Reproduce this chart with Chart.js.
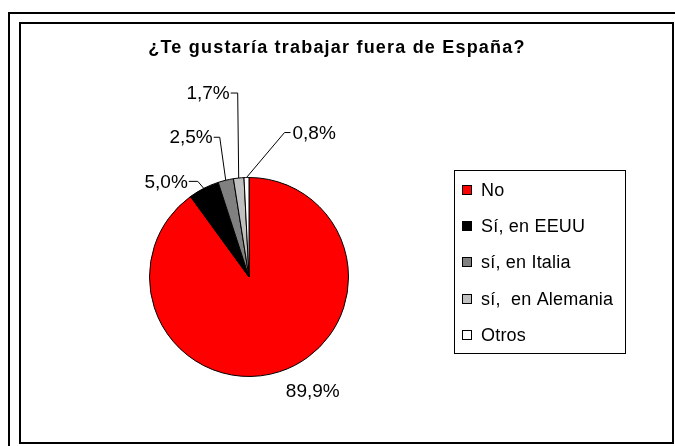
<!DOCTYPE html>
<html>
<head>
<meta charset="utf-8">
<script src="https://cdn.jsdelivr.net/npm/chart.js@4.4.1/dist/chart.umd.min.js"></script>
<style>
	html, body { margin: 0; padding: 0; background: #fff; }
	#pieChart { display: block; }
</style>
</head>
<body>
<canvas id="pieChart" width="675" height="446"></canvas>
<script>
	// data
	var chartTitle = '¿Te gustaría trabajar fuera de España?';
	var categories = ['No', 'Sí, en EEUU', 'sí, en Italia', 'sí,  en Alemania', 'Otros'];
	var percents = [89.9, 5.0, 2.5, 1.7, 0.8];
	var sliceColors = ['#ff0000', '#000000', '#808080', '#c0c0c0', '#ffffff'];

	// label placement, relative to the slice edge point (style only)
	var labelLayout = [
		{ line: false, tx: 33, ty: 20, align: 'center' },
		{ line: true, ex: -6, ey: -7, tail: -15, tx: -16, align: 'right' },
		{ line: true, ex: -6, ey: -43, tail: -12, tx: -13, align: 'right' },
		{ line: true, ex: -1, ey: -85, tail: -8, tx: -9, align: 'right' },
		{ line: true, ex: 38, ey: -45, tail: 44, tx: 46, align: 'left' }
	];

	var FONT = "'Liberation Sans', Arial, sans-serif";

	function fmtPct(v) {
		return v.toFixed(1).replace('.', ',') + '%';
	}

	/*----frame, title, legend, labels----*/
	var excelLook = {
		id: 'excelLook',
		beforeDraw: function(chart) {
			var ctx = chart.ctx;
			ctx.save();
			ctx.fillStyle = '#fff';
			ctx.fillRect(0, 0, chart.width, chart.height);
			ctx.strokeStyle = '#000';
			// outer chart border (runs off the right and bottom edge)
			ctx.lineWidth = 2;
			ctx.beginPath();
			ctx.moveTo(chart.width + 5, 13);
			ctx.lineTo(9, 13);
			ctx.lineTo(9, chart.height + 5);
			ctx.stroke();
			// inner border
			ctx.strokeRect(20, 23, 653, 420);
			ctx.restore();
		},
		afterDraw: function(chart) {
			var ctx = chart.ctx;
			var meta = chart.getDatasetMeta(0);
			var ds = chart.data.datasets[0];
			ctx.save();

			// title
			ctx.fillStyle = '#000';
			ctx.font = 'bold 18px ' + FONT;
			ctx.letterSpacing = '1.2px';
			ctx.textAlign = 'center';
			ctx.textBaseline = 'middle';
			ctx.fillText(chartTitle, 337, 48);
			ctx.letterSpacing = '0px';

			// value labels with leader lines
			ctx.font = '19px ' + FONT;
			ctx.lineWidth = 1;
			ctx.strokeStyle = '#000';
			meta.data.forEach(function(arc, i) {
				var mid = (arc.startAngle + arc.endAngle) / 2;
				var px = arc.x + Math.cos(mid) * arc.outerRadius;
				var py = arc.y + Math.sin(mid) * arc.outerRadius;
				var lay = labelLayout[i];
				if (lay.line) {
					ctx.beginPath();
					ctx.moveTo(px, py);
					ctx.lineTo(px + lay.ex, py + lay.ey);
					ctx.lineTo(px + lay.tail, py + lay.ey);
					ctx.stroke();
					ctx.textAlign = lay.align;
					ctx.fillText(fmtPct(ds.data[i]), px + lay.tx, py + lay.ey + 1);
				} else {
					ctx.textAlign = lay.align;
					ctx.fillText(fmtPct(ds.data[i]), px + lay.tx, py + lay.ty);
				}
			});

			// legend
			ctx.strokeStyle = '#000';
			ctx.lineWidth = 1;
			ctx.strokeRect(454.5, 170.5, 171, 183);
			ctx.font = '18px ' + FONT;
			ctx.letterSpacing = '0.2px';
			ctx.textAlign = 'left';
			chart.data.labels.forEach(function(lbl, i) {
				var cy = 190 + i * 36.2;
				ctx.fillStyle = ds.backgroundColor[i];
				ctx.fillRect(462, Math.round(cy) - 5, 10, 10);
				ctx.strokeRect(462.5, Math.round(cy) - 4.5, 9, 9);
				ctx.fillStyle = '#000';
				ctx.fillText(lbl, 481, cy + 1);
			});
			ctx.restore();
		}
	};

	/*----pieChart----*/
	var ctx = document.getElementById('pieChart');
	var myChart = new Chart(ctx, {
		type: 'pie',
		data: {
			labels: categories,
			datasets: [{
				data: percents,
				backgroundColor: sliceColors,
				borderColor: '#000',
				borderWidth: 1,
			}]
		},
		options: {
			responsive: false,
			animation: false,
			devicePixelRatio: 1,
			rotation: 0,
			layout: {
				padding: { left: 149, right: 326, top: 177, bottom: 69 }
			},
			plugins: {
				legend: { display: false },
				title: { display: false },
				tooltip: { enabled: false }
			}
		},
		plugins: [excelLook]
	});
	/*----End pieChart----*/
</script>
</body>
</html>
